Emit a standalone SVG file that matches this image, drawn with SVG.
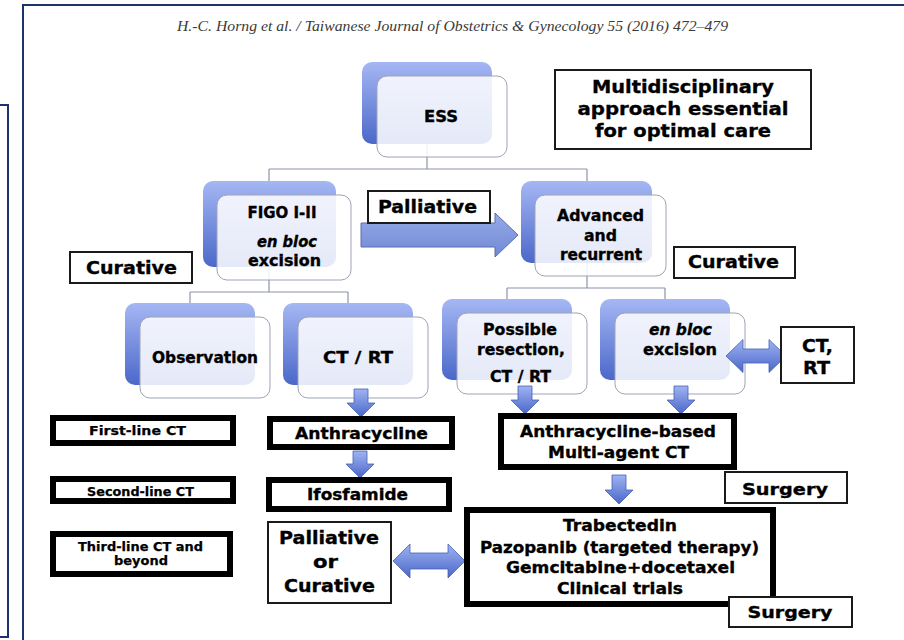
<svg xmlns="http://www.w3.org/2000/svg" width="904" height="640" viewBox="0 0 904 640">
<defs>
<linearGradient id="gBack" x1="0" y1="0" x2="0" y2="1"><stop offset="0" stop-color="#a5b7f3"/><stop offset="1" stop-color="#4b68ca"/></linearGradient>
<linearGradient id="gArrow" x1="0" y1="0" x2="0" y2="1"><stop offset="0" stop-color="#9fb3f3"/><stop offset="1" stop-color="#4a67c8"/></linearGradient>
<linearGradient id="gBig" x1="0" y1="0" x2="0" y2="1"><stop offset="0" stop-color="#96aae8"/><stop offset="1" stop-color="#7089d6"/></linearGradient>
<style>
.back{fill:url(#gBack);}
.front{fill:#ffffff;fill-opacity:0.86;stroke:#9ea4b6;stroke-width:1;}
.conn{fill:none;stroke:#8c94a8;stroke-width:1.2;}
.arr{fill:url(#gArrow);stroke:#4660b0;stroke-width:0.8;}
.thick{fill:#ffffff;stroke:#000000;stroke-width:6;}
.thin{fill:#ffffff;stroke:#1a1a1a;stroke-width:2;}
text{font-family:"DejaVu Sans","Liberation Sans",sans-serif;font-weight:bold;fill:#000000;stroke:#000000;stroke-width:0.35;text-anchor:middle;}
.n{font-size:15px;}
.big{font-size:18px;}
.mid{font-size:16px;}
.sm{font-size:13px;stroke-width:0.25;}
.it{font-style:italic;}
.hdr{font-family:"Liberation Serif","DejaVu Serif",serif;font-weight:normal;font-style:italic;font-size:15px;fill:#3a3a3a;stroke:none;text-anchor:start;}
</style>
</defs>
<rect x="0" y="0" width="904" height="640" fill="#ffffff"/>
<g id="frame" fill="none" stroke="#1a3370" stroke-width="2">
<path d="M23,640 V5 H904"/>
<path d="M-2,105 H8 V637 H-2"/>
</g>
<text class="hdr" x="177" y="30.5" textLength="551" lengthAdjust="spacingAndGlyphs">H.-C. Horng et al. / Taiwanese Journal of Obstetrics &amp; Gynecology 55 (2016) 472–479</text>

<g id="connectors">
<path class="conn" d="M427,110 V169 M269,169 H587 M269,169 V190 M587,169 V190"/>
<path class="conn" d="M269,230 V292 M190,292 H348 M190,292 V310 M348,292 V310"/>
<path class="conn" d="M587,230 V288 M507,288 H665 M507,288 V306 M665,288 V306"/>
</g>

<g id="node-ess">
<rect class="back" x="362" y="62" width="130" height="82" rx="10"/>
<rect class="front" x="377" y="76" width="130" height="81" rx="10"/>
<text class="n" x="441" y="121.5" textLength="34" lengthAdjust="spacingAndGlyphs">ESS</text>
</g>
<g id="node-figo">
<rect class="back" x="203" y="181" width="133" height="86" rx="10"/>
<rect class="front" x="217" y="195" width="134" height="85" rx="10"/>
<text class="n" x="282" y="218" textLength="69" lengthAdjust="spacingAndGlyphs">FIGO I-II</text>
<text class="n it" x="287" y="247" textLength="60" lengthAdjust="spacingAndGlyphs">en bloc</text>
<text class="n" x="284.5" y="266" textLength="73" lengthAdjust="spacingAndGlyphs">excision</text>
</g>
<g id="node-advanced">
<rect class="back" x="521" y="181" width="131" height="82" rx="10"/>
<rect class="front" x="535" y="195" width="131" height="81" rx="10"/>
<text class="n" x="600.5" y="221" textLength="87" lengthAdjust="spacingAndGlyphs">Advanced</text>
<text class="n" x="600.5" y="241" textLength="33" lengthAdjust="spacingAndGlyphs">and</text>
<text class="n" x="601" y="260" textLength="82" lengthAdjust="spacingAndGlyphs">recurrent</text>
</g>
<g id="node-observation">
<rect class="back" x="125" y="303" width="130" height="82" rx="10"/>
<rect class="front" x="140" y="317" width="130" height="81" rx="10"/>
<text class="n" x="205" y="363" textLength="106" lengthAdjust="spacingAndGlyphs">Observation</text>
</g>
<g id="node-ctrt">
<rect class="back" x="283" y="303" width="130" height="82" rx="10"/>
<rect class="front" x="298" y="317" width="130" height="81" rx="10"/>
<text class="n" x="358" y="363" textLength="70" lengthAdjust="spacingAndGlyphs">CT / RT</text>
</g>
<g id="node-possible">
<rect class="back" x="442" y="299" width="130" height="81" rx="10"/>
<rect class="front" x="457" y="313" width="130" height="81" rx="10"/>
<text class="n" x="520" y="335" textLength="74" lengthAdjust="spacingAndGlyphs">Possible</text>
<text class="n" x="521" y="355" textLength="88" lengthAdjust="spacingAndGlyphs">resection,</text>
<text class="n" x="520.5" y="382" textLength="61" lengthAdjust="spacingAndGlyphs">CT / RT</text>
</g>
<g id="node-enbloc">
<rect class="back" x="600" y="299" width="130" height="81" rx="10"/>
<rect class="front" x="615" y="313" width="130" height="81" rx="10"/>
<text class="n it" x="680.5" y="335" textLength="63" lengthAdjust="spacingAndGlyphs">en bloc</text>
<text class="n" x="680" y="355" textLength="74" lengthAdjust="spacingAndGlyphs">excision</text>
</g>

<g id="arrows">
<path d="M361,223 H495 V213 L518,235 L495,257 V247 H361 Z" fill="url(#gBig)" stroke="#5a6ea8" stroke-width="1"/>
<path class="arr" d="M354,389 H368 V403 H375 L361,417 L347,403 H354 Z"/>
<path class="arr" d="M353,451 H367 V464 H374 L360,478 L346,464 H353 Z"/>
<path class="arr" d="M518,386 H532 V400 H539 L525,414 L511,400 H518 Z"/>
<path class="arr" d="M674,386 H688 V400 H695 L681,414 L667,400 H674 Z"/>
<path class="arr" d="M612,475 H626 V490 H633 L619,504 L605,490 H612 Z"/>
<path class="arr" d="M726,356 L743,339.5 V349 H769 V339.5 L786,356 L769,372.5 V363 H743 V372.5 Z"/>
<path class="arr" d="M393,561 L410,544 V553 H448 V544 L465,561 L448,578 V569 H410 V578 Z"/>
</g>

<g id="box-multi">
<rect class="thin" x="555" y="70" width="256" height="79"/>
<text class="big" x="683" y="93" textLength="182" lengthAdjust="spacingAndGlyphs">Multidisciplinary</text>
<text class="big" x="683" y="115" textLength="211" lengthAdjust="spacingAndGlyphs">approach essential</text>
<text class="big" x="683" y="137" textLength="176" lengthAdjust="spacingAndGlyphs">for optimal care</text>
</g>
<g id="box-palliative">
<rect class="thin" x="368" y="191" width="122" height="32"/>
<text class="big" x="427.5" y="213" textLength="99" lengthAdjust="spacingAndGlyphs">Palliative</text>
</g>
<g id="box-curative-left">
<rect class="thin" x="70" y="252" width="122" height="31"/>
<text class="big" x="131.5" y="274" textLength="91" lengthAdjust="spacingAndGlyphs">Curative</text>
</g>
<g id="box-curative-right">
<rect class="thin" x="674" y="247" width="121" height="31"/>
<text class="big" x="733.5" y="268" textLength="91" lengthAdjust="spacingAndGlyphs">Curative</text>
</g>
<g id="box-ctrt">
<rect class="thin" x="781" y="327" width="73" height="56"/>
<text class="big" x="817.5" y="352" textLength="31" lengthAdjust="spacingAndGlyphs">CT,</text>
<text class="big" x="816.5" y="374" textLength="27" lengthAdjust="spacingAndGlyphs">RT</text>
</g>
<g id="box-first-line">
<rect class="thick" x="53" y="418" width="180" height="25"/>
<text class="sm" x="137.5" y="435" textLength="97" lengthAdjust="spacingAndGlyphs">First-line CT</text>
</g>
<g id="box-second-line">
<rect class="thick" x="53" y="479" width="180" height="22"/>
<text class="sm" x="140.5" y="496" textLength="107" lengthAdjust="spacingAndGlyphs">Second-line CT</text>
</g>
<g id="box-third-line">
<rect class="thick" x="53" y="534" width="177" height="40"/>
<text class="sm" x="140.5" y="551" textLength="125" lengthAdjust="spacingAndGlyphs">Third-line CT and</text>
<text class="sm" x="141" y="565" textLength="54" lengthAdjust="spacingAndGlyphs">beyond</text>
</g>
<g id="box-anthracycline">
<rect class="thick" x="270" y="419" width="182" height="28"/>
<text class="mid" x="361.5" y="439" textLength="133" lengthAdjust="spacingAndGlyphs">Anthracycline</text>
</g>
<g id="box-ifosfamide">
<rect class="thick" x="269" y="480" width="180" height="29"/>
<text class="mid" x="357.5" y="500" textLength="101" lengthAdjust="spacingAndGlyphs">Ifosfamide</text>
</g>
<g id="box-anthra-based">
<rect class="thick" x="501" y="416" width="233" height="51"/>
<text class="mid" x="618" y="437" textLength="196" lengthAdjust="spacingAndGlyphs">Anthracycline-based</text>
<text class="mid" x="618.5" y="458" textLength="141" lengthAdjust="spacingAndGlyphs">Multi-agent CT</text>
</g>
<g id="box-surgery-upper">
<rect class="thin" x="725" y="472" width="122" height="31"/>
<text class="mid" x="785" y="495" textLength="86" lengthAdjust="spacingAndGlyphs">Surgery</text>
</g>
<g id="box-palliative-or-curative">
<rect class="thin" x="268" y="522" width="123" height="81"/>
<text class="big" x="329" y="544" textLength="100" lengthAdjust="spacingAndGlyphs">Palliative</text>
<text class="big" x="325.5" y="568" textLength="25" lengthAdjust="spacingAndGlyphs">or</text>
<text class="big" x="329.5" y="592" textLength="91" lengthAdjust="spacingAndGlyphs">Curative</text>
</g>
<g id="box-trabectedin">
<rect class="thick" x="467" y="510" width="306" height="94"/>
<text class="mid" x="620" y="531" textLength="114" lengthAdjust="spacingAndGlyphs">Trabectedin</text>
<text class="mid" x="619.5" y="553" textLength="279" lengthAdjust="spacingAndGlyphs">Pazopanib (targeted therapy)</text>
<text class="mid" x="620.5" y="573" textLength="229" lengthAdjust="spacingAndGlyphs">Gemcitabine+docetaxel</text>
<text class="mid" x="620" y="594" textLength="126" lengthAdjust="spacingAndGlyphs">Clinical trials</text>
</g>
<g id="box-surgery-lower">
<rect class="thin" x="729" y="597" width="123" height="30"/>
<text class="mid" x="790" y="618" textLength="85" lengthAdjust="spacingAndGlyphs">Surgery</text>
</g>
</svg>
